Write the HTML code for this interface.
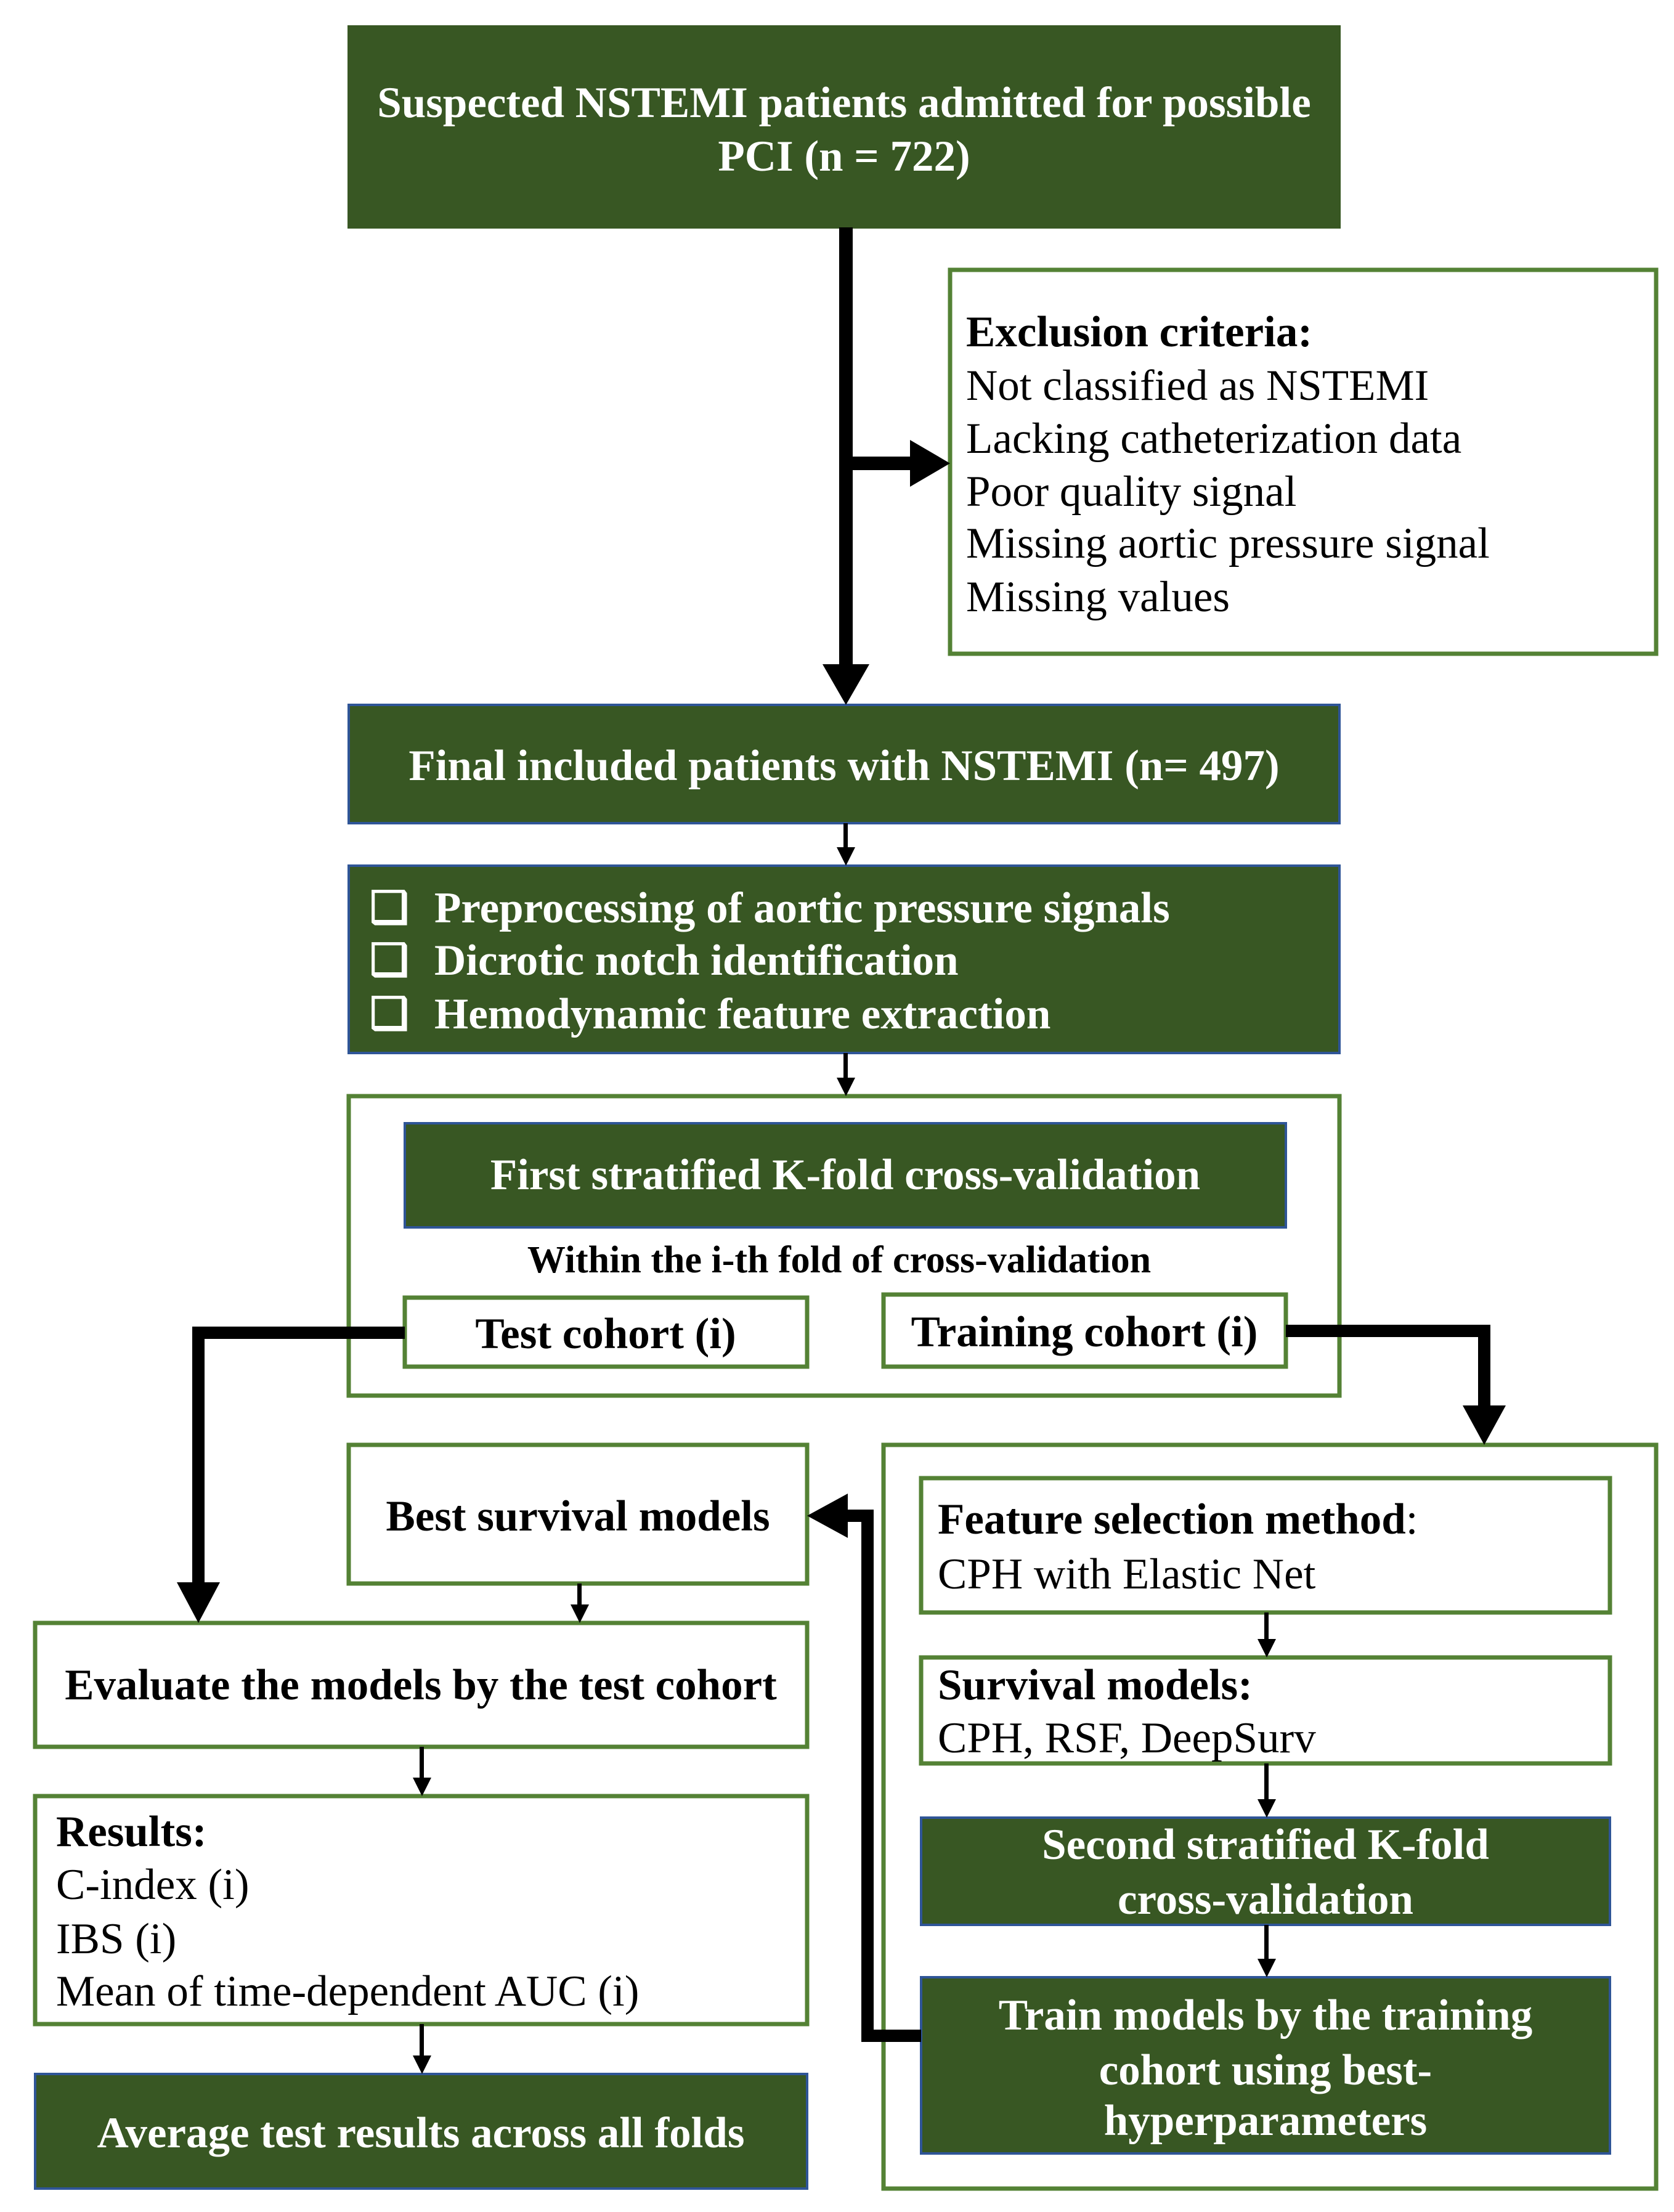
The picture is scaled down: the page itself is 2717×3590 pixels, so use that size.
<!DOCTYPE html>
<html><head><meta charset="utf-8"><style>
html,body{margin:0;padding:0;background:#fff;}
svg{display:block;}
text{font-family:"Liberation Serif",serif;}
</style></head><body>
<svg width="2717" height="3590" viewBox="0 0 2717 3590" xmlns="http://www.w3.org/2000/svg">
<g fill="#fff" stroke="#548235" stroke-width="7">
<rect x="1542" y="438" width="1146" height="623"/>
<rect x="566" y="1779" width="1608" height="486"/>
<rect x="657" y="2106" width="653" height="112"/>
<rect x="1434" y="2101" width="653" height="117"/>
<rect x="566" y="2345" width="744" height="225"/>
<rect x="1434" y="2345" width="1254" height="1207"/>
<rect x="57" y="2634" width="1253" height="201"/>
<rect x="57" y="2915" width="1253" height="370"/>
<rect x="1495" y="2399" width="1118" height="218"/>
<rect x="1495" y="2690" width="1118" height="172"/>
</g>
<g fill="#385723" stroke="#2f5597" stroke-width="4">
<rect x="566" y="43" width="1608" height="326" stroke="#385723"/>
<rect x="566" y="1144" width="1608" height="192"/>
<rect x="566" y="1405" width="1608" height="304"/>
<rect x="657" y="1823" width="1430" height="169"/>
<rect x="57" y="3366" width="1253" height="186"/>
<rect x="1495" y="2950" width="1118" height="174"/>
<rect x="1495" y="3209" width="1118" height="286"/>
</g>
<g fill="#000" stroke="none">
<rect x="1362" y="369" width="22" height="712"/>
<polygon points="1335,1078 1411,1078 1373,1144"/>
<rect x="1373" y="741" width="110" height="22"/>
<polygon points="1477,714 1477,790 1542,752"/>
<rect x="1369" y="1336" width="7" height="42"/>
<polygon points="1358,1375 1388,1375 1373,1405"/>
<rect x="1369" y="1709" width="7" height="44"/>
<polygon points="1358,1749 1388,1749 1373,1779"/>
<rect x="312" y="2153" width="345" height="20"/>
<rect x="312" y="2153" width="20" height="420"/>
<polygon points="287,2568 357,2568 322,2634"/>
<rect x="2087" y="2150" width="332" height="20"/>
<rect x="2399" y="2150" width="20" height="135"/>
<polygon points="2374,2281 2444,2281 2409,2345"/>
<rect x="1398" y="3294" width="97" height="20"/>
<rect x="1398" y="2450" width="20" height="864"/>
<rect x="1370" y="2450" width="48" height="20"/>
<polygon points="1376,2424 1376,2496 1310,2460"/>
<rect x="937" y="2570" width="7" height="36"/>
<polygon points="926,2604 956,2604 941,2634"/>
<rect x="681" y="2835" width="7" height="52"/>
<polygon points="670,2885 700,2885 685,2915"/>
<rect x="681" y="3285" width="7" height="53"/>
<polygon points="670,3336 700,3336 685,3366"/>
<rect x="2052" y="2617" width="7" height="45"/>
<polygon points="2041,2660 2071,2660 2056,2690"/>
<rect x="2052" y="2862" width="7" height="60"/>
<polygon points="2041,2920 2071,2920 2056,2950"/>
<rect x="2052" y="3124" width="7" height="57"/>
<polygon points="2041,3179 2071,3179 2056,3209"/>
</g>
<g font-size="71" font-weight="bold" fill="#fff" text-anchor="middle" dominant-baseline="central">
<text x="1370" y="167">Suspected NSTEMI patients admitted for possible</text>
<text x="1370" y="254">PCI (n = 722)</text>
<text x="1370" y="1243">Final included patients with NSTEMI (n= 497)</text>
<text x="1372" y="1907">First stratified K-fold cross-validation</text>
<text x="683" y="3462">Average test results across all folds</text>
<text x="2054" y="2994">Second stratified K-fold</text>
<text x="2054" y="3083">cross-validation</text>
<text x="2054" y="3271">Train models by the training</text>
<text x="2054" y="3360">cohort using best-</text>
<text x="2054" y="3442">hyperparameters</text>
</g>
<g font-size="71" font-weight="bold" fill="#fff" dominant-baseline="central">
<text x="600" y="1474">❑</text><text x="705" y="1474">Preprocessing of aortic pressure signals</text>
<text x="600" y="1559">❑</text><text x="705" y="1559">Dicrotic notch identification</text>
<text x="600" y="1646">❑</text><text x="705" y="1646">Hemodynamic feature extraction</text>
</g>
<g font-size="71" fill="#000" dominant-baseline="central">
<text x="1568" y="539" font-weight="bold">Exclusion criteria:</text>
<text x="1568" y="626">Not classified as NSTEMI</text>
<text x="1568" y="712">Lacking catheterization data</text>
<text x="1568" y="798">Poor quality signal</text>
<text x="1568" y="882">Missing aortic pressure signal</text>
<text x="1568" y="969">Missing values</text>
<text x="91" y="2973" font-weight="bold">Results:</text>
<text x="91" y="3059">C-index (i)</text>
<text x="91" y="3147">IBS (i)</text>
<text x="91" y="3232">Mean of time-dependent AUC (i)</text>
<text x="1522" y="2466"><tspan font-weight="bold">Feature selection method</tspan>:</text>
<text x="1522" y="2555">CPH with Elastic Net</text>
<text x="1522" y="2735" font-weight="bold">Survival models:</text>
<text x="1522" y="2821">CPH, RSF, DeepSurv</text>
</g>
<g font-size="71" font-weight="bold" fill="#000" text-anchor="middle" dominant-baseline="central">
<text x="1362" y="2045" font-size="62">Within the i-th fold of  cross-validation</text>
<text x="983" y="2165">Test cohort (i)</text>
<text x="1760" y="2162">Training cohort (i)</text>
<text x="938" y="2461">Best survival models</text>
<text x="683" y="2735">Evaluate the models by the test cohort</text>
</g>
</svg>
</body></html>
